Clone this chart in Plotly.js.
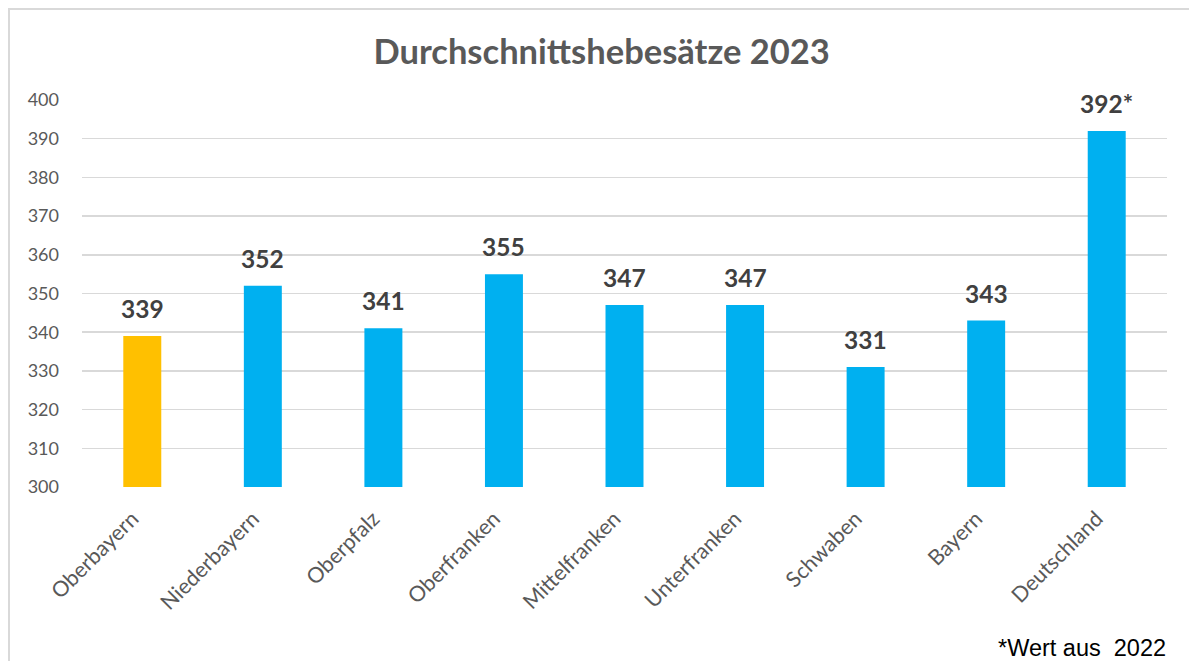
<!DOCTYPE html>
<html>
<head>
<meta charset="utf-8">
<script src="https://cdn.plot.ly/plotly-3.0.1.min.js"></script>
<style>
  html, body { margin: 0; padding: 0; background: #fff; }
  #frame { position: absolute; left: 8px; top: 8px; width: 1200px; height: 700px;
           border-left: 2px solid #d9d9d9; border-top: 2px solid #d9d9d9; box-sizing: border-box; }
  #chart { position: absolute; left: 0; top: 0; width: 1189px; height: 661px; }
</style>
</head>
<body>
<div id="frame"></div>
<div id="chart"></div>
<script>
const categories = ["Oberbayern", "Niederbayern", "Oberpfalz", "Oberfranken", "Mittelfranken", "Unterfranken", "Schwaben", "Bayern", "Deutschland"];
const values = [339, 352, 341, 355, 347, 347, 331, 343, 392];
const labelSuffix = ["", "", "", "", "", "", "", "", "*"];
const barColors = ["#FFC000", "#00B0F0", "#00B0F0", "#00B0F0", "#00B0F0", "#00B0F0", "#00B0F0", "#00B0F0", "#00B0F0"];
const yTicks = [300, 310, 320, 330, 340, 350, 360, 370, 380, 390, 400];

const fontMain = "Lato, 'Open Sans', sans-serif";

const trace = {
  type: "bar",
  x: categories,
  y: values,
  base: 0,
  marker: { color: barColors },
  hoverinfo: "x+y"
};

const annotations = categories.map((c, i) => ({
  x: c, y: values[i], xref: "x", yref: "y",
  text: "<b>" + values[i] + labelSuffix[i] + "</b>",
  showarrow: false, yanchor: "bottom", yshift: 11,
  font: { family: fontMain, size: 24.5, color: "#404040" }
}));

annotations.push({
  xref: "paper", yref: "paper", x: 1.001, y: -0.416,
  xanchor: "right", yanchor: "middle", showarrow: false,
  text: "*Wert aus  2022",
  font: { family: "'Liberation Sans', Arial, sans-serif", size: 23.5, color: "#000000" }
});

const layout = {
  width: 1189, height: 661,
  margin: { l: 82, r: 22, t: 100, b: 174 },
  paper_bgcolor: "rgba(0,0,0,0)",
  plot_bgcolor: "rgba(0,0,0,0)",
  title: {
    text: "<b>Durchschnittshebesätze 2023</b>",
    xref: "container", yref: "container", x: 0.506, y: 0.921,
    xanchor: "center", yanchor: "middle",
    font: { family: fontMain, size: 34.5, color: "#595959" }
  },
  bargap: 0.685,
  showlegend: false,
  xaxis: {
    type: "category",
    tickangle: -45,
    tickfont: { family: fontMain, size: 21.5, color: "#595959" },
    showgrid: false, showline: false, ticks: "",
    ticklabelstandoff: 14,
    ticklabelshift: -10,
    fixedrange: true
  },
  yaxis: {
    range: [300, 400],
    tickmode: "array", tickvals: yTicks, ticktext: yTicks.map(String),
    tickfont: { family: fontMain, size: 18, color: "#595959" },
    showgrid: true, gridcolor: "#d9d9d9", gridwidth: 1.5,
    zeroline: false, showline: false, ticks: "",
    ticklabelstandoff: 22,
    fixedrange: true
  },
  annotations: annotations
};

Plotly.newPlot("chart", [trace], layout, { displayModeBar: false, staticPlot: true });
</script>
</body>
</html>
